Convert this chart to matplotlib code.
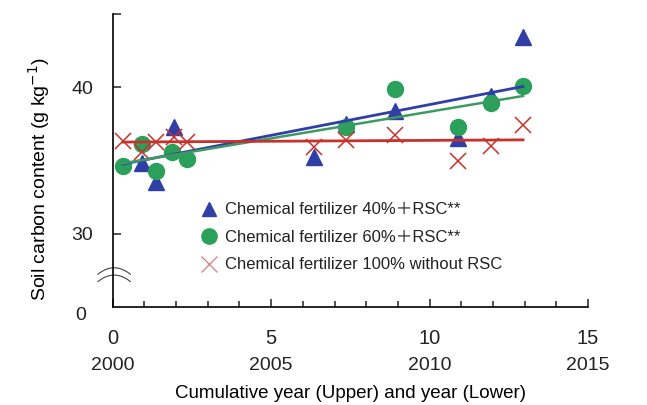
import numpy as np
import matplotlib
matplotlib.use("Agg")
import matplotlib.pyplot as plt
from matplotlib.lines import Line2D

plt.rcParams['font.family'] = ['Liberation Sans', 'Noto Sans CJK SC', 'DejaVu Sans']
plt.rcParams['text.color'] = '#222222'
plt.rcParams['xtick.color'] = '#222222'
plt.rcParams['ytick.color'] = '#222222'

# cumulative year of each sampling
years_tri = [0.92, 1.36, 1.94, 6.36, 7.35, 8.92, 10.9, 11.95, 12.95]
carbon_tri = [34.8, 33.5, 37.3, 35.2, 37.5, 38.4, 36.5, 39.4, 43.4]

years_circ = [0.33, 0.92, 1.36, 1.88, 2.34, 7.36, 8.92, 10.9, 11.95, 12.95]
carbon_circ = [34.6, 36.1, 34.3, 35.6, 35.1, 37.3, 39.9, 37.3, 38.9, 40.05]

years_x = [0.33, 0.92, 1.36, 1.92, 2.34, 6.36, 7.35, 8.92, 10.9, 11.95, 12.95]
carbon_x = [36.3, 35.6, 36.25, 36.6, 36.25, 35.9, 36.4, 36.7, 34.95, 36.0, 37.4]

# regression line end points
trend_x = [0.33, 12.95]
trend_tri = [34.75, 40.05]
trend_circ = [34.8, 39.4]
trend_x100 = [36.25, 36.4]

labels = ["Chemical fertilizer 40%\uff0bRSC**",
          "Chemical fertilizer 60%\uff0bRSC**",
          "Chemical fertilizer 100% without RSC"]

cum_ticks = [0, 5, 10, 15]
year_labels = ["2000", "2005", "2010", "2015"]

blue = "#2f3fa6"
green = "#2aa05a"
red = "#c8302c"

fig = plt.figure(figsize=(6.47, 4.05), dpi=100)
ax = fig.add_axes([0.1742, 0.2427, 0.7346, 0.7227])

ax.plot(years_tri, carbon_tri, '^', color=blue, ms=11, ls='none', zorder=2)
ax.plot(years_circ, carbon_circ, 'o', color=green, ms=11.5, ls='none', zorder=2)
ax.plot(years_x, carbon_x, 'x', color=red, ms=11, mew=1.1, ls='none', zorder=2)

ax.plot(trend_x, trend_tri, color=blue, lw=2, zorder=3)
ax.plot(trend_x, trend_circ, color="#3d9a63", lw=1.8, zorder=3)
ax.plot(trend_x, trend_x100, color=red, lw=2, zorder=3)

ax.set_xlim(0, 15)
ax.set_ylim(25, 45)
for s in ['top', 'right']:
    ax.spines[s].set_visible(False)
ax.spines['left'].set_linewidth(1.2)
ax.spines['bottom'].set_linewidth(1.2)

ax.set_xticks(cum_ticks)
ax.set_xticks(np.arange(0, 16), minor=True)
ax.set_xticklabels([str(t) for t in cum_ticks], fontsize=14.5)
ax.tick_params(axis='x', which='major', direction='in', length=6, width=1.1, pad=16)
ax.tick_params(axis='x', which='minor', direction='in', length=4, width=1.1)

ax.set_yticks([30, 40, 45])
ax.set_yticklabels(["30", "40", ""], fontsize=14)
ax.tick_params(axis='y', direction='in', length=6, width=1.1, pad=14)
ax.text(-0.055, -0.03, "0", transform=ax.transAxes, fontsize=14, ha='right', va='center')

# year labels under the cumulative years
sec = ax.secondary_xaxis('bottom')
sec.set_xticks(cum_ticks)
sec.set_xticklabels(year_labels, fontsize=14)
sec.tick_params(length=0, pad=36)
sec.spines['bottom'].set_visible(False)
sec.set_xlabel("Cumulative year (Upper) and year (Lower)", fontsize=13.5, labelpad=8)

ax.set_ylabel("Soil carbon content (g kg$^{-1}$)", fontsize=14)
ax.yaxis.set_label_coords(-0.127, 0.436)

# axis break mark
t = np.linspace(-1, 1, 30)
for peak in [0.133, 0.108]:
    ax.plot(0.003 + 0.034 * t, peak - 0.022 * t ** 2,
            transform=ax.transAxes, color='#444444', lw=0.8, clip_on=False)

handles = [Line2D([], [], marker='^', color=blue, ls='none', ms=10),
           Line2D([], [], marker='o', color=green, ls='none', ms=11),
           Line2D([], [], marker='x', color='#d08080', ls='none', ms=11, mew=0.9)]
ax.legend(handles, labels, loc='upper left', bbox_to_anchor=(0.167, 0.385),
          frameon=False, fontsize=12, handlelength=1.0, handletextpad=0.5,
          labelspacing=0.75, borderpad=0)

fig.savefig("out.png", dpi=100)
